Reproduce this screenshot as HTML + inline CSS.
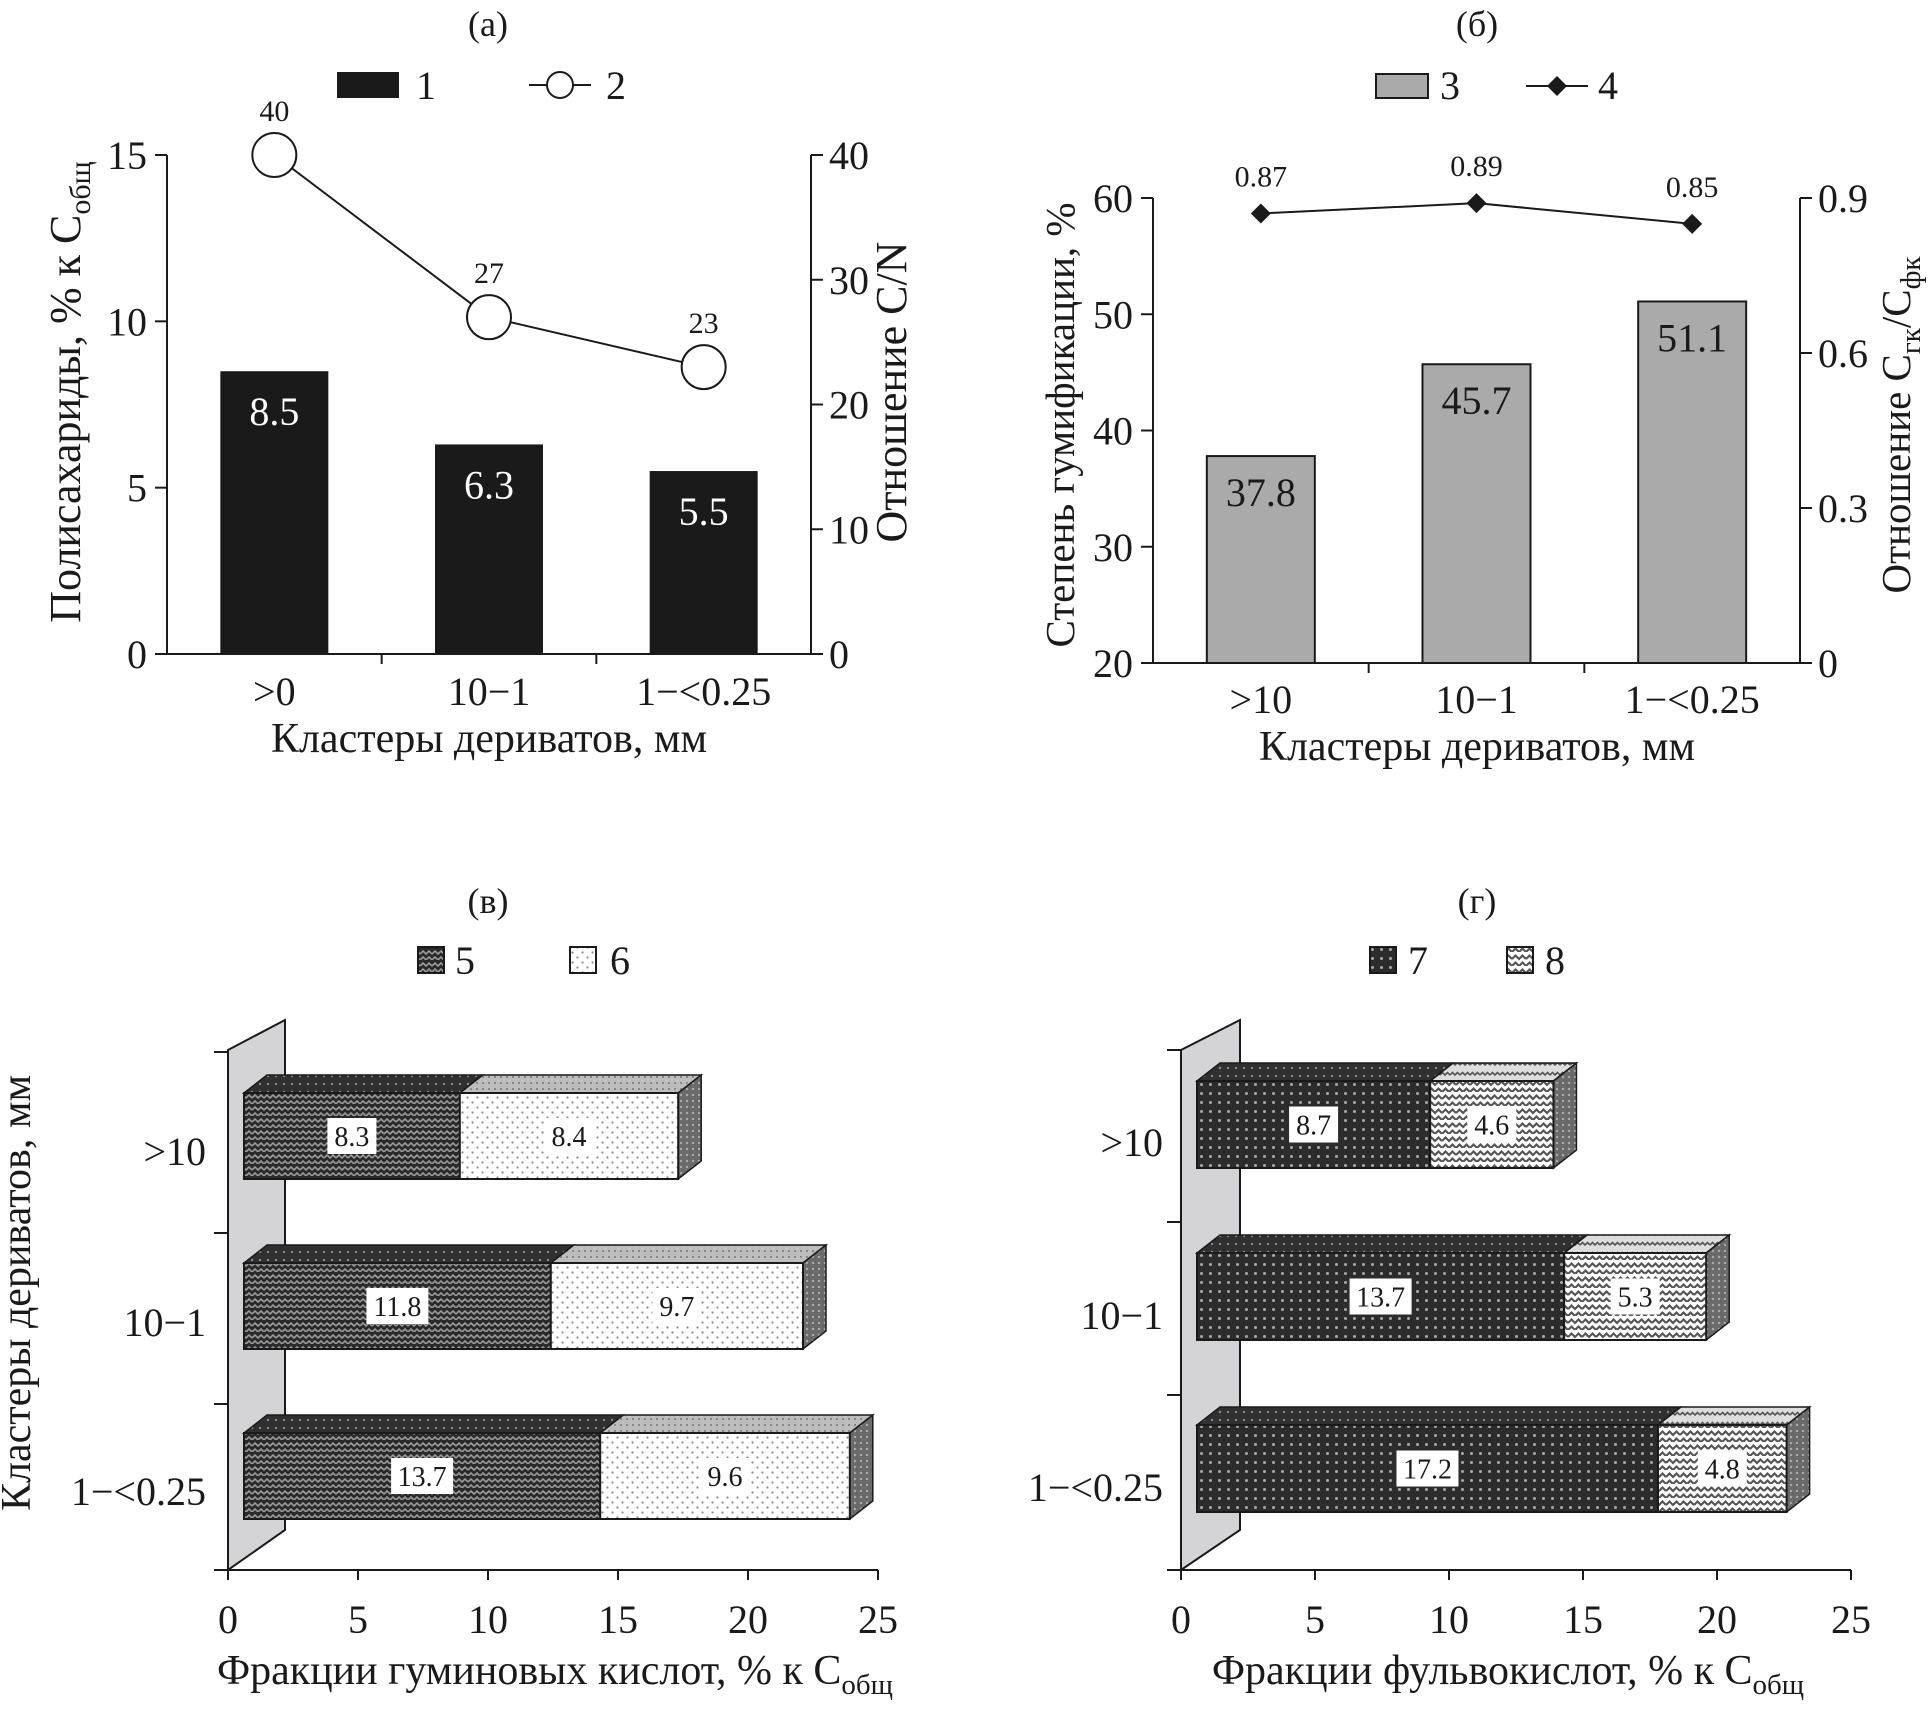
<!DOCTYPE html>
<html><head><meta charset="utf-8">
<style>
html,body{margin:0;padding:0;background:#fff;}
svg{display:block;}
text{font-family:"Liberation Serif",serif;fill:#1a1a1a;}
</style></head>
<body>
<svg id="fig" width="1930" height="1731" viewBox="0 0 1930 1731" xmlns="http://www.w3.org/2000/svg">
<defs>
  <pattern id="p5" width="12" height="12" patternUnits="userSpaceOnUse">
    <rect width="12" height="12" fill="#2a2a2a"/>
    <path d="M0 6 L3 3 L6 6 L9 3 L12 6 M0 12 L3 9 L6 12 L9 9 L12 12" stroke="#9a9a9a" stroke-width="1.6" fill="none"/>
  </pattern>
  <pattern id="p5top" width="8" height="8" patternUnits="userSpaceOnUse">
    <rect width="8" height="8" fill="#303030"/>
    <circle cx="4" cy="4" r="1.2" fill="#888"/>
  </pattern>
  <pattern id="p6" width="10" height="10" patternUnits="userSpaceOnUse">
    <rect width="10" height="10" fill="#fff"/>
    <circle cx="2.5" cy="2.5" r="1.1" fill="#888"/>
    <circle cx="7.5" cy="7.5" r="1.1" fill="#888"/>
  </pattern>
  <pattern id="p6top" width="6" height="6" patternUnits="userSpaceOnUse">
    <rect width="6" height="6" fill="#bdbdbd"/>
    <circle cx="3" cy="3" r="1" fill="#777"/>
  </pattern>
  <pattern id="pside" width="6" height="6" patternUnits="userSpaceOnUse">
    <rect width="6" height="6" fill="#6a6a6a"/>
    <circle cx="3" cy="3" r="1.2" fill="#aaa"/>
  </pattern>
  <pattern id="p7" width="9" height="9" patternUnits="userSpaceOnUse">
    <rect width="9" height="9" fill="#2c2c2c"/>
    <circle cx="4.5" cy="4.5" r="1.5" fill="#a8a8a8"/>
  </pattern>
  <pattern id="p8" width="14" height="14" patternUnits="userSpaceOnUse">
    <rect width="14" height="14" fill="#fff"/>
    <path d="M0 7 L3.5 3.5 L7 7 L10.5 3.5 L14 7 M0 14 L3.5 10.5 L7 14 L10.5 10.5 L14 14" stroke="#555" stroke-width="2.2" fill="none"/>
  </pattern>
  <pattern id="p8top" width="10" height="10" patternUnits="userSpaceOnUse">
    <rect width="10" height="10" fill="#ddd"/>
    <path d="M0 5 L2.5 2.5 L5 5 L7.5 2.5 L10 5" stroke="#555" stroke-width="1.6" fill="none"/>
  </pattern>
</defs>

<g>
  <text x="488" y="36" font-size="36" text-anchor="middle">(а)</text>
  <rect x="337" y="72" width="62" height="26" fill="#1a1a1a"/>
  <text x="416" y="99" font-size="40">1</text>
  <line x1="529" y1="85" x2="591" y2="85" stroke="#1a1a1a" stroke-width="2"/>
  <circle cx="560" cy="85" r="13" fill="#fff" stroke="#1a1a1a" stroke-width="2"/>
  <text x="606" y="99" font-size="40">2</text>
  <text transform="translate(80,392) rotate(-90)" font-size="44" text-anchor="middle">Полисахариды, % к C<tspan font-size="30" dy="10">общ</tspan></text>
  <text transform="translate(906,392) rotate(-90)" font-size="44" text-anchor="middle">Отношение C/N</text>
  <text x="489" y="752" font-size="42" text-anchor="middle">Кластеры дериватов, мм</text>
</g>
<g id="ga"></g>

<g>
  <text x="1477" y="36" font-size="36" text-anchor="middle">(б)</text>
  <rect x="1376" y="74" width="52" height="24" fill="#aaa" stroke="#1a1a1a" stroke-width="2"/>
  <text x="1440" y="99" font-size="40">3</text>
  <line x1="1526" y1="86" x2="1588" y2="86" stroke="#1a1a1a" stroke-width="2"/>
  <path d="M1557 76 L1567 86 L1557 96 L1547 86 Z" fill="#1a1a1a"/>
  <text x="1598" y="99" font-size="40">4</text>
  <text transform="translate(1074,425) rotate(-90)" font-size="41" text-anchor="middle">Степень гумификации, %</text>
  <text transform="translate(1910,425) rotate(-90)" font-size="41" text-anchor="middle">Отношение C<tspan font-size="29" dy="10">гк</tspan><tspan dy="-10">/C</tspan><tspan font-size="29" dy="10">фк</tspan></text>
  <text x="1477" y="760" font-size="42" text-anchor="middle">Кластеры дериватов, мм</text>
</g>
<g id="gb"></g>

<g>
  <text x="488" y="913" font-size="36" text-anchor="middle">(в)</text>
  <rect x="418" y="947" width="26" height="26" fill="url(#p5)" stroke="#1a1a1a" stroke-width="2"/>
  <text x="455" y="974" font-size="40">5</text>
  <rect x="570" y="947" width="26" height="26" fill="url(#p6)" stroke="#1a1a1a" stroke-width="2"/>
  <text x="610" y="974" font-size="40">6</text>
  <text transform="translate(30,1293) rotate(-90)" font-size="42" text-anchor="middle">Кластеры дериватов, мм</text>
  <text x="555" y="1684" font-size="42" text-anchor="middle">Фракции гуминовых кислот, % к C<tspan font-size="29" dy="10">общ</tspan></text>
</g>
<g id="gv"></g>

<g>
  <text x="1477" y="913" font-size="36" text-anchor="middle">(г)</text>
  <rect x="1370" y="947" width="26" height="26" fill="url(#p7)" stroke="#1a1a1a" stroke-width="2"/>
  <text x="1408" y="974" font-size="40">7</text>
  <rect x="1507" y="947" width="26" height="26" fill="url(#p8)" stroke="#1a1a1a" stroke-width="2"/>
  <text x="1545" y="974" font-size="40">8</text>
  <text x="1508" y="1684" font-size="42" text-anchor="middle">Фракции фульвокислот, % к C<tspan font-size="29" dy="10">общ</tspan></text>
</g>
<g id="gg"></g>
</svg>

<script>
const catsA = [">0", "10\u22121", "1\u2212<0.25"];
const polysaccharides = [8.5, 6.3, 5.5];
const cnRatio = [40, 27, 23];
const ticksAL = [0, 5, 10, 15];
const ticksAR = [0, 10, 20, 30, 40];

const catsB = [">10", "10\u22121", "1\u2212<0.25"];
const humification = [37.8, 45.7, 51.1];
const chaCfa = [0.87, 0.89, 0.85];
const ticksBL = [20, 30, 40, 50, 60];
const ticksBR = [0, 0.3, 0.6, 0.9];
const ticksBRLabels = ["0", "0.3", "0.6", "0.9"];

const catsC = [">10", "10\u22121", "1\u2212<0.25"];
const series5 = [8.3, 11.8, 13.7];
const series6 = [8.4, 9.7, 9.6];
const series7 = [8.7, 13.7, 17.2];
const series8 = [4.6, 5.3, 4.8];
const ticksX = [0, 5, 10, 15, 20, 25];

const NS = 'http://www.w3.org/2000/svg';
function mk(tag, parent, attrs) {
  const e = document.createElementNS(NS, tag);
  for (const k in attrs) e.setAttribute(k, attrs[k]);
  parent.appendChild(e);
  return e;
}
function txt(parent, x, y, s, size, anchor, fill) {
  const t = mk('text', parent, {x: x, y: y, 'font-size': size, 'text-anchor': anchor || 'middle'});
  if (fill) t.setAttribute('style', 'fill:' + fill);
  t.textContent = s;
  return t;
}

(function () {
  const g = document.getElementById('ga');
  const L = 167, R = 811, T = 155, B = 654;
  const yL = v => B - v * (B - T) / 15;
  const yR = v => B - v * (B - T) / 40;
  const bw = (R - L) / catsA.length;
  const xc = i => L + (i + 0.5) * bw;
  let e;
  e = mk('line', g, {x1: L, y1: T, x2: L, y2: B, stroke: '#1a1a1a', 'stroke-width': 2});
  
  
  e = mk('line', g, {x1: R, y1: T, x2: R, y2: B, stroke: '#1a1a1a', 'stroke-width': 2});
  
  
  e = mk('line', g, {x1: L, y1: B, x2: R, y2: B, stroke: '#1a1a1a', 'stroke-width': 2});
  
  
  ticksAL.forEach(v => {
    mk('line', g, {x1: L - 12, y1: yL(v), x2: L, y2: yL(v), stroke: '#1a1a1a', 'stroke-width': 2});
    e = txt(g, L - 20, yL(v) + 14, String(v), 40, 'end');
    
    
  });
  ticksAR.forEach(v => {
    mk('line', g, {x1: R, y1: yR(v), x2: R + 12, y2: yR(v), stroke: '#1a1a1a', 'stroke-width': 2});
    e = txt(g, R + 18, yR(v) + 14, String(v), 40, 'start');
    
    
  });
  for (let i = 1; i < catsA.length; i++) {
    mk('line', g, {x1: L + i * bw, y1: B, x2: L + i * bw, y2: B + 10, stroke: '#1a1a1a', 'stroke-width': 2});
  }
  catsA.forEach((c, i) => {
    e = txt(g, xc(i), 705, c, 40);
    
    
  });
  polysaccharides.forEach((v, i) => {
    e = mk('rect', g, {x: xc(i) - 54, y: yL(v), width: 108, height: B - yL(v), fill: '#1a1a1a'});
    
    
    e = txt(g, xc(i), yL(v) + 54, v.toFixed(1), 40, 'middle', '#fff');
    
    
  });
  const pts = cnRatio.map((v, i) => xc(i) + ',' + yR(v)).join(' ');
  e = mk('polyline', g, {points: pts, fill: 'none', stroke: '#1a1a1a', 'stroke-width': 2});
  
  
  cnRatio.forEach((v, i) => {
    e = mk('circle', g, {cx: xc(i), cy: yR(v), r: 22, fill: '#fff', stroke: '#1a1a1a', 'stroke-width': 2});
    
    
    e = txt(g, xc(i), yR(v) - 34, String(v), 30);
    
    
  });
})();

(function () {
  const g = document.getElementById('gb');
  const L = 1153, R = 1800, T = 198, B = 663;
  const yL = v => B - (v - 20) * (B - T) / 40;
  const yR = v => B - v * (B - T) / 0.9;
  const bw = (R - L) / catsB.length;
  const xc = i => L + (i + 0.5) * bw;
  let e;
  e = mk('line', g, {x1: L, y1: T, x2: L, y2: B, stroke: '#1a1a1a', 'stroke-width': 2});
  
  
  e = mk('line', g, {x1: R, y1: T, x2: R, y2: B, stroke: '#1a1a1a', 'stroke-width': 2});
  
  
  e = mk('line', g, {x1: L, y1: B, x2: R, y2: B, stroke: '#1a1a1a', 'stroke-width': 2});
  
  
  ticksBL.forEach(v => {
    mk('line', g, {x1: L - 12, y1: yL(v), x2: L, y2: yL(v), stroke: '#1a1a1a', 'stroke-width': 2});
    e = txt(g, L - 20, yL(v) + 14, String(v), 40, 'end');
    
    
  });
  ticksBR.forEach((v, k) => {
    mk('line', g, {x1: R, y1: yR(v), x2: R + 12, y2: yR(v), stroke: '#1a1a1a', 'stroke-width': 2});
    e = txt(g, R + 18, yR(v) + 14, ticksBRLabels[k], 40, 'start');
    
    
  });
  for (let i = 1; i < catsB.length; i++) {
    mk('line', g, {x1: L + i * bw, y1: B, x2: L + i * bw, y2: B + 10, stroke: '#1a1a1a', 'stroke-width': 2});
  }
  catsB.forEach((c, i) => {
    e = txt(g, xc(i), 713, c, 40);
    
    
  });
  humification.forEach((v, i) => {
    e = mk('rect', g, {x: xc(i) - 54, y: yL(v), width: 108, height: B - yL(v), fill: '#aaaaaa', stroke: '#1a1a1a', 'stroke-width': 2});
    
    
    e = txt(g, xc(i), yL(v) + 50, v.toFixed(1), 40);
    
    
  });
  const pts = chaCfa.map((v, i) => xc(i) + ',' + yR(v)).join(' ');
  e = mk('polyline', g, {points: pts, fill: 'none', stroke: '#1a1a1a', 'stroke-width': 2});
  
  
  chaCfa.forEach((v, i) => {
    const x = xc(i), y = yR(v);
    e = mk('path', g, {d: `M${x} ${y-10} L${x+10} ${y} L${x} ${y+10} L${x-10} ${y} Z`, fill: '#1a1a1a'});
    
    
    e = txt(g, x, y - 27, v.toFixed(2), 30);
    
    
  });
})();

function stacked(gid, cfg, sA, sB, pats, tag) {
  const g = document.getElementById(gid);
  const x0 = cfg.x0, unit = cfg.unit, B = 1570;
  const xv = v => x0 + v * unit;
  const start = x0 + 16;
  const wallW = cfg.wallW, dy = 30;
  let e;
  e = mk('path', g, {d: `M${x0} ${cfg.wallTop} L${x0+wallW} ${cfg.wallTop-dy} L${x0+wallW} ${B-dy-10} L${x0} ${B} Z`, fill: '#d4d4d6', stroke: '#1a1a1a', 'stroke-width': 2});
  
  
  e = mk('line', g, {x1: x0, y1: B, x2: xv(25), y2: B, stroke: '#1a1a1a', 'stroke-width': 2});
  
  
  ticksX.forEach(v => {
    mk('line', g, {x1: xv(v), y1: B, x2: xv(v), y2: B + 10, stroke: '#1a1a1a', 'stroke-width': 2});
    e = txt(g, xv(v), 1633, String(v), 40);
    
    
  });
  cfg.ticksY.forEach(y => {
    mk('line', g, {x1: x0 - 14, y1: y, x2: x0, y2: y, stroke: '#1a1a1a', 'stroke-width': 2});
  });
  const dx = 23, ddy = 18;
  catsC.forEach((c, i) => {
    const top = cfg.barTop[i], h = cfg.barH;
    const xa = start + sA[i] * unit, xb = xa + sB[i] * unit;
    e = mk('path', g, {d: `M${start} ${top} L${start+dx} ${top-ddy} L${xa+dx} ${top-ddy} L${xa} ${top} Z`, fill: `url(#${pats[2]})`, stroke: '#1a1a1a', 'stroke-width': 1.5});
    
    
    e = mk('path', g, {d: `M${xa} ${top} L${xa+dx} ${top-ddy} L${xb+dx} ${top-ddy} L${xb} ${top} Z`, fill: `url(#${pats[3]})`, stroke: '#1a1a1a', 'stroke-width': 1.5});
    
    
    e = mk('path', g, {d: `M${xb} ${top} L${xb+dx} ${top-ddy} L${xb+dx} ${top+h-ddy} L${xb} ${top+h} Z`, fill: 'url(#pside)', stroke: '#1a1a1a', 'stroke-width': 1.5});
    
    
    e = mk('rect', g, {x: start, y: top, width: xa - start, height: h, fill: `url(#${pats[0]})`, stroke: '#1a1a1a', 'stroke-width': 2});
    
    
    e = mk('rect', g, {x: xa, y: top, width: xb - xa, height: h, fill: `url(#${pats[1]})`, stroke: '#1a1a1a', 'stroke-width': 2});
    
    
    [[start, xa, sA[i]], [xa, xb, sB[i]]].forEach(s => {
      const cx = (s[0] + s[1]) / 2, cy = top + h / 2;
      const lab = s[2].toFixed(1);
      const w = lab.length * 13 + 10;
      mk('rect', g, {x: cx - w / 2, y: cy - 18, width: w, height: 36, fill: '#fff'});
      e = txt(g, cx, cy + 10, lab, 28);
      
      
    });
    e = txt(g, cfg.labelX, cfg.labelY[i], c, 40, 'end');
    
    
  });
}
stacked('gv', {x0: 228, unit: 26, wallW: 57, wallTop: 1050, ticksY: [1052, 1233, 1404, 1570],
  barTop: [1093, 1263, 1433], barH: 86, labelX: 206, labelY: [1165, 1336, 1505]},
  series5, series6, ['p5', 'p6', 'p5top', 'p6top'], 'v');
stacked('gg', {x0: 1181, unit: 26.8, wallW: 59, wallTop: 1050, ticksY: [1050, 1222, 1395, 1570],
  barTop: [1081, 1253, 1425], barH: 87, labelX: 1163, labelY: [1156, 1329, 1501]},
  series7, series8, ['p7', 'p8', 'p5top', 'p8top'], 'g');
</script>
</body></html>
